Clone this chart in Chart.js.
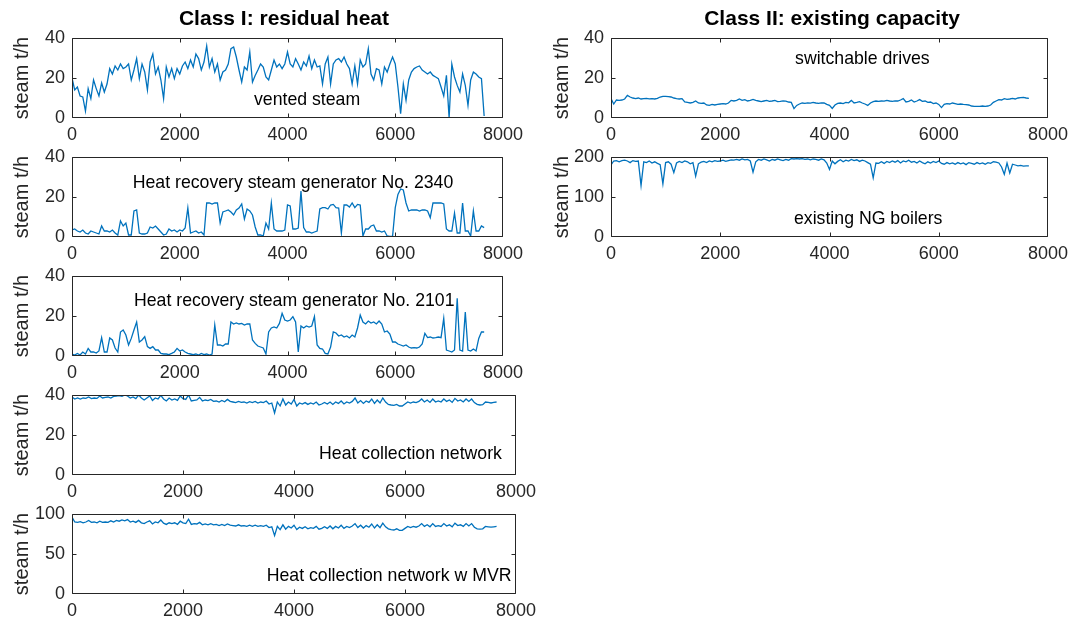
<!DOCTYPE html>
<html><head><meta charset="utf-8">
<script src="https://cdn.jsdelivr.net/npm/chart.js@4.4.1/dist/chart.umd.min.js"></script>
<style>
html,body{margin:0;padding:0;background:#fff;width:1071px;height:623px;overflow:hidden}
.p{position:absolute}
</style></head><body>
<script>
// ---- DATA (hours of operation, steam in t/h) ----
const hours = [
0,50,100,150,200,250,300,350,400,450,
500,550,600,650,700,750,800,850,900,950,
1000,1050,1100,1150,1200,1250,1300,1350,1400,1450,
1500,1550,1600,1650,1700,1750,1800,1850,1900,1950,
2000,2050,2100,2150,2200,2250,2300,2350,2400,2450,
2500,2550,2600,2650,2700,2750,2800,2850,2900,2950,
3000,3050,3100,3150,3200,3250,3300,3350,3400,3450,
3500,3550,3600,3650,3700,3750,3800,3850,3900,3950,
4000,4050,4100,4150,4200,4250,4300,4350,4400,4450,
4500,4550,4600,4650,4700,4750,4800,4850,4900,4950,
5000,5050,5100,5150,5200,5250,5300,5350,5400,5450,
5500,5550,5600,5650,5700,5750,5800,5850,5900,5950,
6000,6050,6100,6150,6200,6250,6300,6350,6400,6450,
6500,6550,6600,6650,6700,6750,6800,6850,6900,6950,
7000,7050,7100,7150,7200,7250,7300,7350,7400,7450,
7500,7550,7600,7650];

const ventedSteam = [
20,14,15.5,11,10.5,3.5,14.7,9.7,19,14.7,
11,17.5,13,17,24.7,22,26,24,27,24.7,
25.5,27,19,24,29.7,19.7,27,23,14,28,
32,22,25.5,19,9.7,25.5,20.5,24.7,19.7,24.7,
22,26,28,24.7,29,25.5,32,29.7,24,28,
36,25.5,29.7,23,27,19,23,24,27,34.7,
35.5,30.5,24,18,25.5,24,33,18,21.3,24,
27,25.5,20.5,19,24,29,25.5,27,24.7,27,
33,27,25.5,29.7,27,24,28,26,31,24.7,
29,25.5,26,17,27,30.5,17,27,29,29.7,
28,30.5,27,24.7,17,26,17,29,25.5,27,
34.7,22,19,24.7,24,17,25.5,23,27,30.5,
27,15.5,2.2,17,8.8,19,23,24.7,25.5,26,
24,23,22,23,21.3,20.5,19.7,15.5,11,21.3,
0,27,20.5,16.3,13,22,16.3,6.3,19,23,
22,20.5,19.7,1];

const hrsg2340 = [
3.5,4,3,2.5,3.5,2,1.5,3,2.5,2,
1.5,5.5,3,3,2.5,3.5,2,1,8,5.5,
7,1,1,13,13.5,2,1.5,1.5,2,5,
4.5,5.5,4,2.5,1,1.5,4,3,3.5,2.5,
3.5,3,4.5,14.5,2,2.5,3,2,2.5,1,
17,17,16.5,17,17,7,12.5,13,13.5,12.5,
11,13.5,14.5,16.5,9,14,13,11,5,1,
1,0.5,7,4,17,4,3,3,3,3.5,
16,15.5,4,4,4.5,23,4.7,2.5,2.5,2,
2.5,3,14,14.7,14.7,14,16,16.3,14.7,14.5,
2,16,16,15,17,14.7,16.3,16,0.5,4,
4,5.5,6,3,3,2.5,3,0.5,0.3,0.3,
14.7,21.3,24,23.5,17,13,13.5,13.5,13.5,13,
13.5,13.5,13,9.7,17,17,17,17,16.5,4,
3,3,12,2,2,17,3,3,0.5,13,
3,3,5.5,4.7];

const hrsg2101 = [
1,0.5,1.3,0.5,2,1,3.8,2,2,1.5,
2.5,9.2,2,2,9,8,4,2,12,13,
10.5,5.5,8.8,13,17,7,8,9.7,4.7,3.8,
4.7,3,3,1.3,1,1,0.7,1.3,2,3.8,
2.5,3,2,1.3,1,0.7,1,0.5,1.3,0.7,
1,0.5,1,15.5,5.5,5.5,5,6,6,17,
16,16.5,16,16.3,15.5,16,16,8,6.3,5,
4.5,4,1,12,14,14.5,14,16.3,21.3,18,
17.5,18,19.7,17,2,15,14,15,14.5,15,
19.7,5.5,3.8,3.5,1.3,1,4.5,12,11.5,10,
10.5,9.5,10,9,10.5,9.5,14,20.5,17,16,
17.5,16.5,17,16,17.5,16,12,12.5,11,7,
7,6,5.5,5,5.5,4.5,4,4.2,4,4.5,
6,11.3,9.2,9.5,9,9.2,9.5,9.2,18.8,3,
2.5,2,3,28.8,3,2.5,22,3,2.5,3.5,
2.5,8.8,12,12];

const heatCollection = [
39,38,38.5,38,38.5,38.3,39,38.2,38.5,38.3,
39.5,38.5,38.8,39,38.5,39.3,39.5,39.7,39.3,40,
39.5,38.5,39,38.2,40,38.5,37.5,38.5,39.5,37.3,
38.5,38,39.8,38,37,38.5,37.5,38,37.3,39.5,
38.2,37.8,40,37,37.3,37.5,38.8,37,37.5,37.2,
37.8,36.8,37,36.5,37.3,36.6,37.8,36.8,36.5,36.2,
36.8,36.3,36.5,36,36.7,36.2,36.8,36,36.5,36.2,
37,35.5,36,31,36.5,34.5,38,35,36.5,35.5,
37.8,34.5,36,35.5,36.2,35.3,36,35.5,36.5,35,
35.5,36.3,35.5,36.5,35.3,36.5,35.8,37,35.5,36.5,
36,36.8,38.5,36,37.2,35.8,37,36.3,38,35.8,
37.5,36,38.5,36.5,35.3,35,34.8,35.3,34.5,34.5,
35.5,36.5,36,36.5,36.2,36.8,38,36.5,37.5,36.3,
38,36.5,37,36.5,38,36.8,37.5,36.3,38.3,37,
37.5,36.5,38,36.8,38,36.2,35.3,35,35.2,36.5,
36.3,36,36.3,36.5];

const heatCollectionMVR = [
96,90,89.5,90.5,89,90,92,89.5,90,89,
91,89.5,90,89.5,91.5,90,92,91,92.5,91.5,
93,90,91,89.5,92,89,88,90,91.5,87.5,
90,89,92.5,88.5,87,89,88,89,87,91,
89,88,93.5,87,88,87.5,89.5,86.5,87.5,86.5,
88,86.5,87,85.5,87,85.5,87.5,86,85.5,85,
86.5,85,85.5,84.5,86,84.5,86,84.5,85.5,84.5,
86,83,84,73,84.5,80.5,86.5,81,84.5,82.5,
86,80.5,83.5,82,84,81.5,83,82,84.5,81,
82,84,82,85,81.5,84.5,82.5,86,82,84.5,
83,85,88,83,86,82.5,85.5,83.5,87.5,82.5,
86.5,83,88.5,84,81.5,80.5,80,81.5,79.5,79.5,
82,84.5,83,84.5,83.5,85,88,84.5,86.5,84,
88,84.5,85.5,84.5,88,85,86.5,84,88.5,85.5,
86.5,84.5,88,85,88,83.5,81.5,81,81.5,84.5,
84,83.5,84,84.5];

const switchableDrives = [
9.7,7,9,8.8,9,9.5,11.3,10.5,10,9.7,
10,9.5,9.7,9.8,9.6,9.7,9.5,9.8,10.5,10.8,
10.8,10.7,10.5,10,9.7,9.5,9.7,8,7.8,7.5,
7.8,8.5,7.5,7.3,7.5,6.5,6.3,6.8,6.5,6.8,
7,7.2,7,7.5,8.8,8.5,8.8,9.5,8.8,9.2,
8.5,8.8,9.3,8.8,8.5,8.2,8.5,8.8,8.3,8.5,
8.8,8.2,8.3,8.6,8.4,8,7.8,4.7,6.3,7,
7.5,7.3,7.6,7.4,7.8,7.5,7.3,7.6,7.5,6.8,
6.3,4.8,6.5,7.3,7.5,7.2,7.8,7.6,8.8,7.5,
7.8,8.2,7.5,7,6.3,7.5,8.2,8.5,8.3,8.5,
8.4,8.8,8.5,8.3,8.6,8.5,9,9.7,8,8.3,
9,8,8.5,9.2,8.3,8.5,7.8,8,7.2,7.5,
6.8,5.2,6.8,7.2,7,7.5,7.2,6.8,7,6.8,
6.7,6.5,6,5.8,5.8,5.8,6,5.8,6,6.5,
7.8,8.5,9.2,9,9.7,9.3,9.5,9.8,9.5,10,
10.2,10.3,10,9.8];

const ngBoilers = [
180,190,191,188,191,192,190,186,191,189,
190,129,188,186,190,185,188,184,181,133,
186,188,182,161,185,189,186,190,188,183,
186,152,183,187,189,186,190,188,191,189,
190,192,189,191,193,192,194,192,195,193,
194,190,162,188,194,192,195,193,190,194,
192,195,193,191,194,192,196,195,196,195,
196,194,195,193,195,194,192,195,193,185,
169,190,183,189,193,188,192,190,194,191,
193,189,192,190,186,182,148,185,184,188,
184,189,186,190,187,191,185,190,188,192,
187,189,185,190,186,183,188,185,189,186,
190,184,182,186,183,185,182,186,183,185,
181,186,184,182,186,183,185,182,186,184,
188,187,185,175,157,185,160,182,180,178,
179,177,178,178];

const xTickStep = 2000;
const xMax = 8000;
const yLabel = 'steam t/h';
const titles = ['Class I: residual heat', 'Class II: existing capacity'];
const notes = ['vented steam', 'Heat recovery steam generator No. 2340', 'Heat recovery steam generator No. 2101',
  'Heat collection network', 'Heat collection network w MVR', 'switchable drives', 'existing NG boilers'];

// ---- LAYOUT / STYLE ----
const FONT = "'Liberation Sans', Arial, Helvetica, sans-serif";
const AX = '#262626';
const LINE = '#0072BD';
const PADT = 40, PADR = 30, XH = 36;

const panels = [
 {col:0,   L:72,  R:503,  T:38,  B:118, data:ventedSteam,       ymax:40,  ystep:20,  note:0, tx:3378, ty:9,    title:0, titleX:3935},
 {col:0,   L:72,  R:503,  T:157, B:237, data:hrsg2340,          ymax:40,  ystep:20,  note:1, tx:1127, ty:27},
 {col:0,   L:72,  R:503,  T:276, B:356, data:hrsg2101,          ymax:40,  ystep:20,  note:2, tx:1151, ty:27.5},
 {col:0,   L:72,  R:516,  T:395, B:475, data:heatCollection,    ymax:40,  ystep:20,  note:3, tx:4451, ty:10.5},
 {col:0,   L:72,  R:516,  T:514, B:594, data:heatCollectionMVR, ymax:100, ystep:50,  note:4, tx:3508, ty:22.5},
 {col:540, L:611, R:1048, T:38,  B:118, data:switchableDrives,  ymax:40,  ystep:20,  note:5, tx:3369, ty:29.5, title:1, titleX:4046},
 {col:540, L:611, R:1048, T:157, B:237, data:ngBoilers,         ymax:200, ystep:100, note:6, tx:3350, ty:45}
];

const matlabAxes = {
  id: 'matlabAxes',
  afterDatasetsDraw(chart, args, o) {
    const {ctx, chartArea: a, scales: {x, y}} = chart;
    ctx.save();
    ctx.strokeStyle = AX; ctx.lineWidth = 1;
    const l = Math.round(a.left) + 0.5, r = Math.round(a.right) - 0.5;
    const t = Math.round(a.top) + 0.5, b = Math.round(a.bottom) - 0.5;
    ctx.beginPath();
    ctx.rect(l, t, r - l, b - t);
    const tl = 4;
    x.ticks.forEach(tk => {
      let px = Math.round(x.getPixelForValue(tk.value)) + 0.5;
      px = Math.min(Math.max(px, l), r);
      ctx.moveTo(px, b); ctx.lineTo(px, b - tl);
      ctx.moveTo(px, t); ctx.lineTo(px, t + tl);
    });
    y.ticks.forEach(tk => {
      let py = Math.round(y.getPixelForValue(tk.value)) + 0.5;
      py = Math.min(Math.max(py, t), b);
      ctx.moveTo(l, py); ctx.lineTo(l + tl, py);
      ctx.moveTo(r, py); ctx.lineTo(r - tl, py);
    });
    ctx.stroke();
    ctx.fillStyle = '#000';
    ctx.font = '17.7px ' + FONT;
    ctx.textAlign = 'left'; ctx.textBaseline = 'middle';
    ctx.fillText(notes[o.note], x.getPixelForValue(o.tx), y.getPixelForValue(o.ty));
    if (o.title !== undefined) {
      ctx.font = 'bold 21px ' + FONT;
      ctx.textAlign = 'center';
      ctx.fillText(titles[o.title], x.getPixelForValue(o.titleX), a.top - 18.5);
    }
    ctx.restore();
  }
};

panels.forEach(p => {
  const div = document.createElement('div');
  div.className = 'p';
  const w = p.R + PADR - p.col, h = p.B - p.T + PADT + XH;
  div.style.left = p.col + 'px'; div.style.top = (p.T - PADT) + 'px';
  div.style.width = w + 'px'; div.style.height = h + 'px';
  const cv = document.createElement('canvas');
  cv.width = w; cv.height = h; cv.style.width = w + 'px'; cv.style.height = h + 'px';
  div.appendChild(cv); document.body.appendChild(div);
  const tickFont = {family: FONT, size: 18};
  new Chart(cv, {
    type: 'line',
    data: {datasets: [{
      data: hours.map((hr, i) => ({x: hr, y: p.data[i]})),
      borderColor: LINE, borderWidth: 1.3, pointRadius: 0, tension: 0, fill: false
    }]},
    options: {
      responsive: false, animation: false, events: [],
      layout: {padding: {left: 0, right: PADR, top: PADT, bottom: 0}},
      plugins: {legend: {display: false}, tooltip: {enabled: false},
        matlabAxes: {note: p.note, tx: p.tx, ty: p.ty, title: p.title, titleX: p.titleX}},
      scales: {
        x: {type: 'linear', min: 0, max: xMax,
          afterFit: s => { s.height = XH; },
          grid: {display: false, drawTicks: false}, border: {display: false},
          ticks: {stepSize: xTickStep, padding: 6, color: AX, font: tickFont, maxRotation: 0, autoSkip: false,
            callback: v => String(v)}},
        y: {type: 'linear', min: 0, max: p.ymax,
          afterFit: s => { s.width = p.L - p.col; },
          grid: {display: false, drawTicks: false}, border: {display: false},
          title: {display: true, text: yLabel, color: AX, font: {family: FONT, size: 20}, padding: {top: 10, bottom: 0}},
          ticks: {stepSize: p.ystep, padding: 7, color: AX, font: tickFont, callback: v => String(v)}}
      }
    },
    plugins: [matlabAxes]
  });
});
</script>
</body></html>
